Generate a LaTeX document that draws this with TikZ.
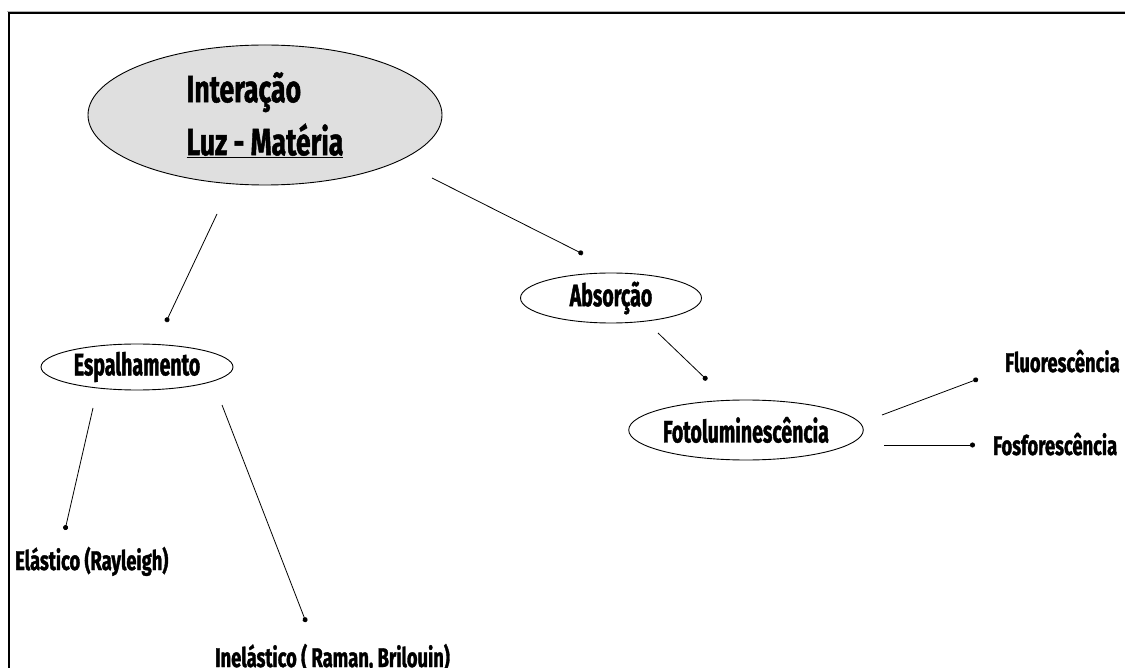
\documentclass[tikz,border=0pt]{standalone}
\usepackage{fontspec}
\newfontfamily\agency{Fira Sans}[FakeStretch=0.63,BoldFeatures={FakeBold=1.2}]
\newfontfamily\agencyw{Fira Sans}[FakeStretch=0.68,BoldFeatures={FakeBold=1.2}]
\newfontfamily\agencyb{Fira Sans}[FakeStretch=0.7,BoldFeatures={FakeBold=1.2}]
\usetikzlibrary{shapes.geometric,arrows.meta}
\begin{document}
\begin{tikzpicture}[x=1pt,y=-1pt,
  bub/.style={ellipse,draw=black,line width=0.9pt,inner sep=0pt,font=\agency\bfseries\fontsize{31}{36}\selectfont},
  lbl/.style={anchor=base west,inner sep=0pt,font=\agencyw\bfseries\fontsize{27}{30}\selectfont},
  conn/.style={line width=0.8pt,-{Circle[length=5pt]}}]
\useasboundingbox (0,0) rectangle (1125,668);
\fill[white] (0,0) rectangle (1125,668);
% frame
\draw[line width=1.6pt] (9,700) -- (9,13) -- (1140,13);
\draw[gray!60,line width=0.6pt] (7,11) -- (1140,11);
% nodes
\node[ellipse,draw=black,line width=0.9pt,fill=gray!25,minimum width=354pt,minimum height=140pt,inner sep=0pt,
      align=left,font=\agencyb\bfseries\fontsize{38}{53}\selectfont] (root) at (265,115)
      {Interação\\\underline{Luz - Matéria}};
\node[bub,minimum width=192pt,minimum height=46pt] (esp) at (137,367) {Espalhamento};
\node[bub,minimum width=181pt,minimum height=50pt] (abs) at (611,298) {Absorção};
\node[bub,minimum width=225pt,minimum height=60pt] (foto) at (746,430) {Fotoluminescência};
\node[lbl] (flu) at (1005,372) {Fluorescência};
\node[lbl] (fos) at (993,455) {Fosforescência};
\node[lbl] (ela) at (15,570) {Elástico (Rayleigh)};
\node[lbl] (ine) at (215,667) {Inelástico ( Raman, Brilouin)};
% connector ends
\coordinate (r1) at (217,214); \coordinate (e1) at (166,322);
\coordinate (r2) at (432,178); \coordinate (a1) at (583,254);
\coordinate (a2) at (658,333); \coordinate (f1) at (707,380);
\coordinate (f2) at (882,415); \coordinate (fl) at (978,379);
\coordinate (f3) at (884,445); \coordinate (fo) at (975,445);
\coordinate (s1) at (93,408);  \coordinate (el) at (65,530);
\coordinate (s2) at (222,405); \coordinate (in) at (306,622);
\draw[conn] (r1) -- (e1);
\draw[conn] (r2) -- (a1);
\draw[conn] (a2) -- (f1);
\draw[conn] (f2) -- (fl);
\draw[conn] (f3) -- (fo);
\draw[conn] (s1) -- (el);
\draw[conn] (s2) -- (in);
\end{tikzpicture}
\end{document}
